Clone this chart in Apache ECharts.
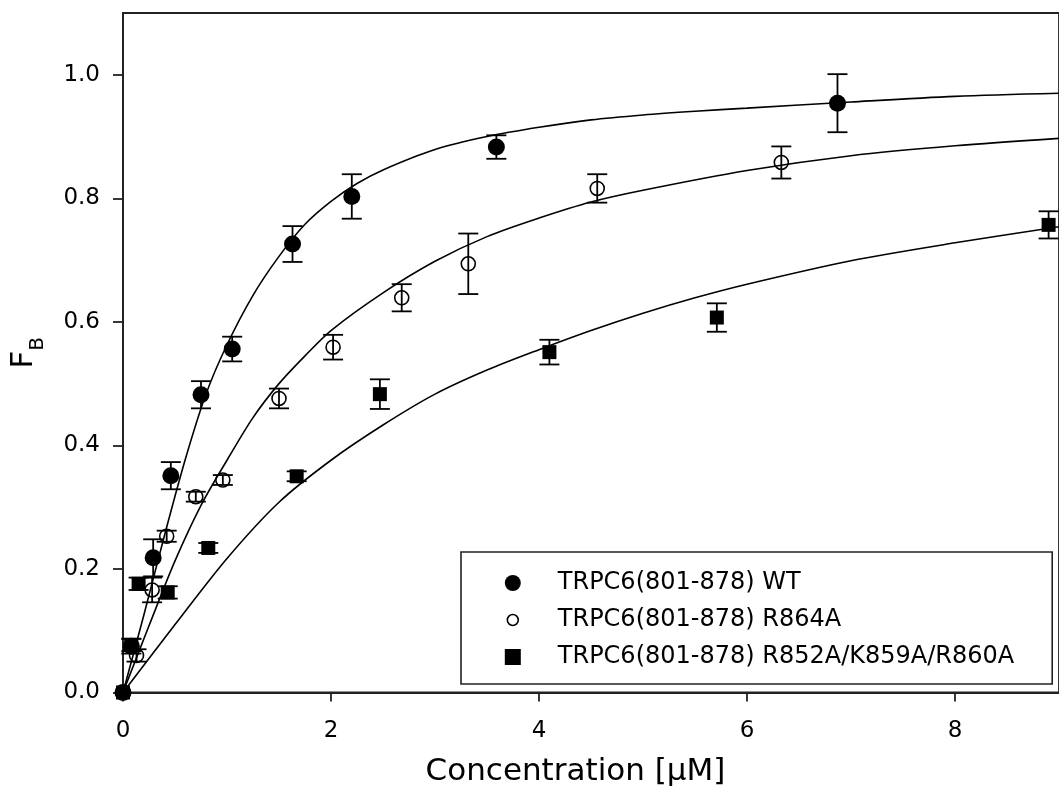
<!DOCTYPE html>
<html>
<head>
<meta charset="utf-8">
<script src="https://cdn.jsdelivr.net/npm/echarts@6/dist/echarts.min.js"></script>
<style>
html,body{margin:0;padding:0;background:#fff;}
#chart{width:1059px;height:796px;}
</style>
</head>
<body>
<div id="chart"></div>
<script>
// ---- Data ----
const seriesNames = ['TRPC6(801-878) WT', 'TRPC6(801-878) R864A', 'TRPC6(801-878) R852A/K859A/R860A'];

// WT (filled circles)
const wtX   = [0, 0.08, 0.29, 0.46, 0.75, 1.05, 1.63, 2.20, 3.59, 6.87];
const wtY   = [0, 0.075, 0.218, 0.351, 0.482, 0.556, 0.726, 0.803, 0.883, 0.954];
const wtErr = [0, 0.012, 0.030, 0.022, 0.022, 0.020, 0.029, 0.036, 0.019, 0.047];

// R864A (open circles)
const mutX   = [0, 0.13, 0.28, 0.42, 0.70, 0.96, 1.50, 2.02, 2.68, 3.32, 4.56, 6.33];
const mutY   = [0, 0.060, 0.166, 0.253, 0.317, 0.344, 0.476, 0.559, 0.639, 0.694, 0.816, 0.858];
const mutErr = [0, 0.010, 0.020, 0.009, 0.008, 0.008, 0.016, 0.020, 0.022, 0.049, 0.023, 0.026];

// R852A/K859A/R860A (filled squares)
const triX   = [0, 0.08, 0.15, 0.43, 0.82, 1.67, 2.47, 4.10, 5.71, 8.90];
const triY   = [0, 0.077, 0.176, 0.162, 0.234, 0.350, 0.483, 0.551, 0.607, 0.757];
const triErr = [0, 0.010, 0.010, 0.010, 0.008, 0.008, 0.024, 0.020, 0.023, 0.022];

// Fitted curves
const wtFitX = [0, 0.2, 0.4, 0.6, 0.8, 1.0, 1.25, 1.5, 1.75, 2.0, 2.25, 2.5, 3.0, 3.5, 4.0, 4.5, 5.0, 5.5, 6.0, 7.0, 8.0, 9.0];
const wtFitY = [0, 0.125, 0.255, 0.378, 0.484, 0.563, 0.643, 0.706, 0.758, 0.795, 0.824, 0.846, 0.879, 0.900, 0.915, 0.927, 0.935, 0.941, 0.946, 0.956, 0.965, 0.970];

const mutFitX = [0, 0.25, 0.5, 0.75, 1.0, 1.25, 1.5, 1.75, 2.0, 2.5, 3.0, 3.5, 4.0, 4.5, 5.0, 6.0, 7.0, 8.0, 9.0];
const mutFitY = [0, 0.108, 0.213, 0.303, 0.376, 0.445, 0.500, 0.545, 0.586, 0.647, 0.698, 0.738, 0.768, 0.794, 0.813, 0.845, 0.869, 0.885, 0.897];

const triFitX = [0, 0.5, 1.0, 1.5, 2.0, 2.5, 3.0, 3.5, 4.0, 4.5, 5.0, 5.5, 6.0, 7.0, 8.0, 9.0];
const triFitY = [0, 0.110, 0.217, 0.308, 0.376, 0.433, 0.483, 0.522, 0.555, 0.586, 0.614, 0.639, 0.661, 0.699, 0.728, 0.754];

// Tick labels
const xTicks = [0, 2, 4, 6, 8];
const yTicks = [0, 0.2, 0.4, 0.6, 0.8, 1.0];

// ---- Chart ----
const FONT = 'DejaVu Sans';
const INK = '#000';

function pairs(xs, ys) { return xs.map((x, i) => [x, ys[i]]); }
function triples(xs, ys, es) { return xs.map((x, i) => [x, ys[i], es[i]]); }

function errRender(params, api) {
  const x = api.value(0), y = api.value(1), e = api.value(2);
  if (!e) return null;
  const top = api.coord([x, y + e]);
  const bot = api.coord([x, y - e]);
  const hw = 10;
  const st = { stroke: INK, lineWidth: 1.8 };
  return {
    type: 'group',
    children: [
      { type: 'line', shape: { x1: top[0], y1: top[1], x2: bot[0], y2: bot[1] }, style: st },
      { type: 'line', shape: { x1: top[0] - hw, y1: top[1], x2: top[0] + hw, y2: top[1] }, style: st },
      { type: 'line', shape: { x1: bot[0] - hw, y1: bot[1], x2: bot[0] + hw, y2: bot[1] }, style: st }
    ]
  };
}

function fitSeries(name, xs, ys) {
  return {
    name: name, type: 'line', data: pairs(xs, ys), smooth: 0.3, showSymbol: false,
    lineStyle: { color: INK, width: 1.6 }, silent: true, z: 2
  };
}
function errSeries(name, xs, ys, es) {
  return {
    name: name, type: 'custom', renderItem: errRender, data: triples(xs, ys, es),
    encode: { x: 0, y: 1 }, silent: true, z: 3
  };
}

const option = {
  backgroundColor: '#fff',
  animation: false,
  grid: {
    left: 122, top: 13, width: 947.25, height: 679.5,
    show: true, borderColor: '#222', borderWidth: 1.8, backgroundColor: 'transparent'
  },
  xAxis: {
    type: 'value', min: 0, max: 9,
    name: 'Concentration [µM]', nameLocation: 'middle', nameGap: 64,
    nameTextStyle: { fontFamily: FONT, fontSize: 31, color: INK, padding: [0, 31, 0, 0] },
    axisLine: { show: true, lineStyle: { color: '#222', width: 1.8 } },
    axisTick: { show: true, inside: false, length: 9, lineStyle: { color: '#222', width: 1.8 }, customValues: xTicks },
    axisLabel: { fontFamily: FONT, fontSize: 23, color: INK, margin: 27, customValues: xTicks, formatter: v => String(v) },
    splitLine: { show: false }
  },
  yAxis: {
    type: 'value', min: 0, max: 1.1,
    name: '{f|F}{s|B}', nameLocation: 'middle', nameRotate: 90, nameGap: 75,
    nameTextStyle: {
      color: INK,
      rich: {
        f: { fontFamily: FONT, fontSize: 31, color: INK, verticalAlign: 'bottom', padding: [0, 0, 9, 0] },
        s: { fontFamily: FONT, fontSize: 20, color: INK, verticalAlign: 'bottom' }
      }
    },
    axisLine: { show: true, lineStyle: { color: '#222', width: 1.8 } },
    axisTick: { show: true, inside: false, length: 10, lineStyle: { color: '#222', width: 1.8 }, customValues: yTicks },
    axisLabel: { fontFamily: FONT, fontSize: 23, color: INK, margin: 23, customValues: yTicks, formatter: v => v.toFixed(1) },
    splitLine: { show: false }
  },
  legend: {
    orient: 'vertical', left: 461, top: 552,
    backgroundColor: '#fff',
    borderColor: '#222', borderWidth: 1.6, borderRadius: 0,
    padding: [18, 38, 14, 43],
    itemGap: 11, itemWidth: 16, itemHeight: 16,
    textStyle: { fontFamily: FONT, fontSize: 24, color: INK, lineHeight: 26, padding: [0, 0, 0, 32] },
    data: [
      { name: seriesNames[0], icon: 'circle', itemStyle: { color: INK, borderWidth: 0 } },
      { name: seriesNames[1], icon: 'path://M0,0M22,22M3.5,11A7.5,7.5,0,1,1,18.5,11A7.5,7.5,0,1,1,3.5,11Z',
        itemStyle: { color: 'rgba(0,0,0,0)', borderColor: INK, borderWidth: 1.6 } },
      { name: seriesNames[2], icon: 'rect', itemStyle: { color: INK, borderWidth: 0 } }
    ]
  },
  series: [
    fitSeries('fitWT', wtFitX, wtFitY),
    fitSeries('fitR864A', mutFitX, mutFitY),
    fitSeries('fitTriple', triFitX, triFitY),
    errSeries('errWT', wtX, wtY, wtErr),
    errSeries('errR864A', mutX, mutY, mutErr),
    errSeries('errTriple', triX, triY, triErr),
    {
      name: seriesNames[2], type: 'scatter', data: pairs(triX, triY),
      symbol: 'rect', symbolSize: 14, itemStyle: { color: INK, opacity: 1 }, z: 4
    },
    {
      name: seriesNames[1], type: 'scatter', data: pairs(mutX, mutY),
      symbol: 'circle', symbolSize: 14,
      itemStyle: { color: 'rgba(0,0,0,0)', borderColor: INK, borderWidth: 1.6, opacity: 1 }, z: 5
    },
    {
      name: seriesNames[0], type: 'scatter', data: pairs(wtX, wtY),
      symbol: 'circle', symbolSize: 17, itemStyle: { color: INK, opacity: 1 }, z: 6
    }
  ]
};

const chart = echarts.init(document.getElementById('chart'), null, { renderer: 'canvas' });
chart.setOption(option);
</script>
</body>
</html>
